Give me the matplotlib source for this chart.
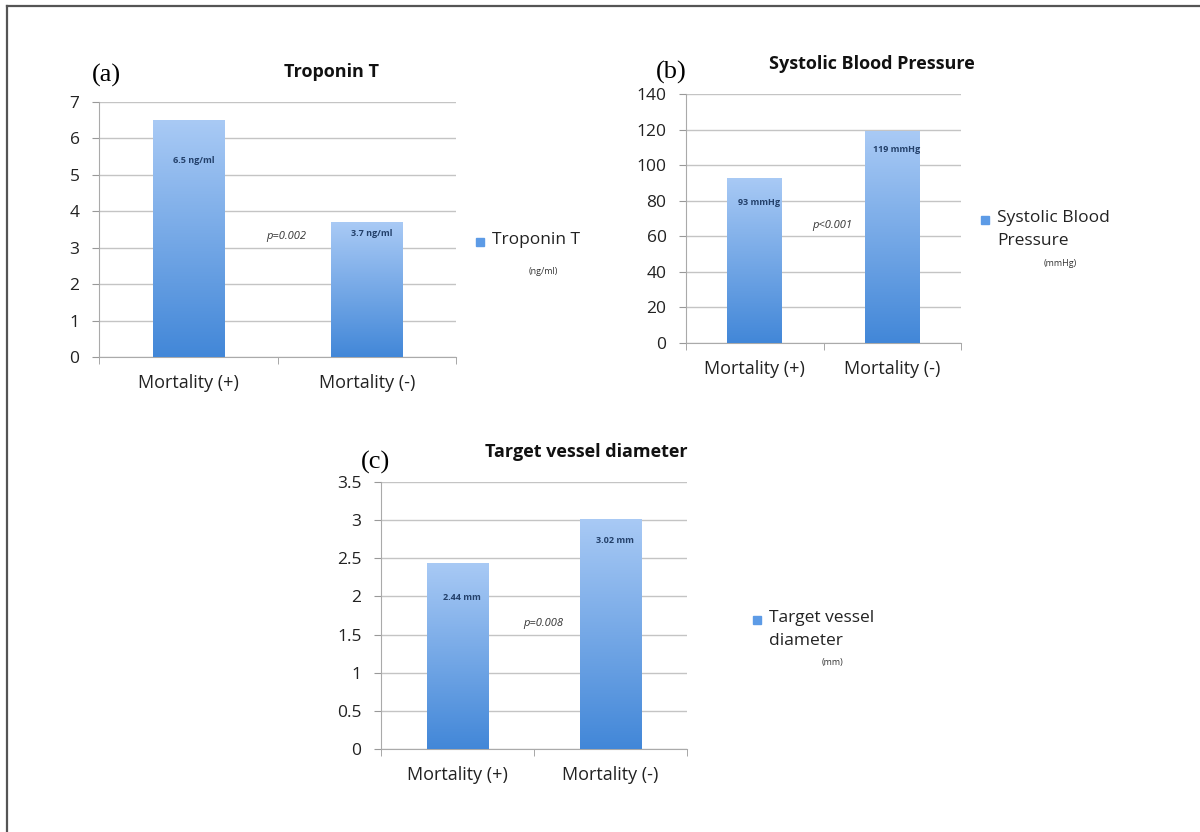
import numpy as np
import matplotlib
matplotlib.use("Agg")
import matplotlib.pyplot as plt
from matplotlib.patches import Rectangle
from matplotlib.lines import Line2D

plt.rcParams['font.family'] = ['Open Sans', 'DejaVu Sans']

categories = ['Mortality (+)', 'Mortality (-)']

troponin = [6.5, 3.7]
troponin_labels = ['6.5 ng/ml', '3.7 ng/ml']
sbp = [93, 119]
sbp_labels = ['93 mmHg', '119 mmHg']
diameter = [2.44, 3.02]
diameter_labels = ['2.44 mm', '3.02 mm']

p_values = ['p=0.002', 'p<0.001', 'p=0.008']
titles = ['Troponin T', 'Systolic Blood Pressure', 'Target vessel diameter']
legend_names = ['Troponin T', 'Systolic Blood\nPressure', 'Target vessel\ndiameter']
units = ['(ng/ml)', '(mmHg)', '(mm)']
letters = ['(a)', '(b)', '(c)']

W, H = 1200, 832
fig = plt.figure(figsize=(12, 8.32), dpi=100)

# outer frame (only top and left edge visible)
fig.add_artist(Line2D([7 / W, 7 / W], [0, 1 - 6 / H], transform=fig.transFigure,
                      color='#555555', lw=1.6))
fig.add_artist(Line2D([7 / W, 1], [1 - 6 / H, 1 - 6 / H], transform=fig.transFigure,
                      color='#555555', lw=1.6))

grad = np.linspace(0, 1, 256).reshape(-1, 1)
cmap = matplotlib.colors.LinearSegmentedColormap.from_list('blu', ['#4287d8', '#a9caf5'])


def px(x, y):
    return x / W, 1 - y / H


def panel(box, values, vlabels, label_y, ymax, ystep, i,
          p_pos, title_x, leg_xy, unit_xy, letter_xy):
    l, t, r, b = box
    ax = fig.add_axes([l / W, 1 - b / H, (r - l) / W, (b - t) / H])
    x = np.arange(len(values))
    bars = ax.bar(x, values, width=0.4, color='#7aaee8', zorder=2)
    for bar in bars:
        bx, by = bar.get_x(), bar.get_y()
        im = ax.imshow(grad, cmap=cmap, aspect='auto', origin='lower',
                       extent=[bx, bx + bar.get_width(), by, by + bar.get_height()],
                       zorder=3)
        im.set_clip_path(bar)
    ax.set_xlim(-0.5, len(values) - 0.5)
    ax.set_ylim(0, ymax)
    ticks = np.arange(0, ymax + ystep / 2, ystep)
    ax.set_yticks(ticks)
    ax.set_yticklabels([f'{v:g}' for v in ticks], fontsize=12.5, color='#222222')
    ax.set_xticks(x)
    ax.set_xticklabels(categories, fontsize=13, color='#222222')
    ax.tick_params(axis='x', length=0, pad=12)
    ax.tick_params(axis='y', length=5, color='#999999', pad=9)
    ax.set_xticks([-0.5, 0.5, 1.5], minor=True)
    ax.tick_params(axis='x', which='minor', length=5, color='#999999')
    ax.grid(axis='y', color='#c4c4c4', lw=1, zorder=0)
    for s in ['top', 'right']:
        ax.spines[s].set_visible(False)
    ax.spines['left'].set_color('#aaaaaa')
    ax.spines['bottom'].set_color('#aaaaaa')
    for xi, ly, lab in zip(x, label_y, vlabels):
        ax.text(xi + 0.03, ly, lab, ha='center', va='center', fontsize=6.5,
                fontweight='bold', color='#23406a', zorder=4)
    ax.text(p_pos[0], p_pos[1], p_values[i], ha='center', va='center',
            fontsize=8, style='italic', color='#333333')
    fx, fy = px(title_x, t - 30)
    fig.text(fx, fy, titles[i], ha='center', va='center', fontsize=13,
             fontweight='bold', color='#111111')
    fx, fy = px(*letter_xy)
    fig.text(fx, fy, letters[i], ha='center', va='center', fontsize=19,
             family='Liberation Serif')
    sx, sy = px(*leg_xy)
    fig.add_artist(Rectangle((sx - 4 / W, sy - 4 / H), 8 / W, 8 / H,
                             transform=fig.transFigure, color='#5d9be6'))
    fig.text(sx + 12 / W, sy + 10 / H, legend_names[i], ha='left', va='top',
             fontsize=12.5, linespacing=1.55, color='#222222')
    fx, fy = px(*unit_xy)
    fig.text(fx, fy, units[i], ha='center', va='center', fontsize=6.5,
             color='#333333')
    return ax


panel((99, 102, 456, 357), troponin, troponin_labels, [5.4, 3.4], 7, 1,
      0, (0.55, 3.3), 332, (480, 242), (543, 271), (106, 75))
panel((686, 94, 961, 343), sbp, sbp_labels, [79, 109], 140, 20,
      1, (0.56, 66), 872, (985, 220), (1060, 264), (671, 72))
panel((381, 482, 687, 749), diameter, diameter_labels, [1.98, 2.73], 3.5, 0.5,
      2, (0.56, 1.65), 586, (757, 620), (832, 662), (375, 462))

fig.savefig('out.png', dpi=100)
